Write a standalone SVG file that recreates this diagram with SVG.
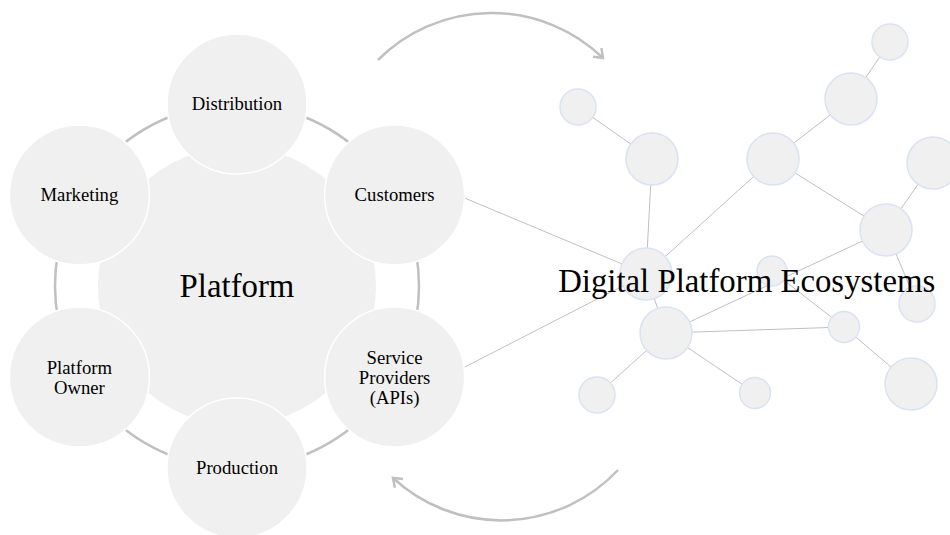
<svg xmlns="http://www.w3.org/2000/svg" width="950" height="535" viewBox="0 0 950 535">
  <style>
    .ring { fill: none; stroke: #c0c0c0; stroke-width: 2.5; }
    .core { fill: #f0f0f0; }
    .sat { fill: #f0f0f0; stroke: #ffffff; stroke-width: 1.5; }
    .dot { fill: #f0f0f0; stroke: #dae3f3; stroke-width: 1.5; }
    .edge { stroke: #c0c0c0; stroke-width: 1; fill: none; }
    .flow { fill: none; stroke: #c0c0c0; stroke-width: 2.5; }
    .lbl { font-family: "Liberation Serif", "Times New Roman", serif; font-size: 18.7px; fill: #000; text-anchor: middle; }
    .big { font-family: "Liberation Serif", "Times New Roman", serif; font-size: 32.8px; fill: #000; text-anchor: middle; }
  </style>
  <defs>
    <marker id="chev" markerUnits="userSpaceOnUse" markerWidth="20" markerHeight="20" refX="0" refY="0" viewBox="-10 -10 20 20" orient="auto" overflow="visible">
      <path d="M-8,-6 L0,0 L-8,6" fill="none" stroke="#c0c0c0" stroke-width="2.5" stroke-linejoin="miter"/>
    </marker>
  </defs>

  <!-- cycle ring behind the platform roles -->
  <circle class="ring" cx="237" cy="286" r="182"/>

  <!-- connectors -->
  <g id="connectors">
    <line class="edge" x1="455" y1="194" x2="646" y2="274"/>
    <line class="edge" x1="455" y1="372" x2="646" y2="274"/>
    <line class="edge" x1="578" y1="107" x2="652" y2="159"/>
    <line class="edge" x1="652" y1="159" x2="646" y2="274"/>
    <line class="edge" x1="773" y1="159" x2="851" y2="99"/>
    <line class="edge" x1="851" y1="99" x2="890" y2="42"/>
    <line class="edge" x1="773" y1="159" x2="646" y2="274"/>
    <line class="edge" x1="773" y1="159" x2="886" y2="230"/>
    <line class="edge" x1="933" y1="163" x2="886" y2="230"/>
    <line class="edge" x1="886" y1="230" x2="917" y2="304"/>
    <line class="edge" x1="886" y1="230" x2="666" y2="333"/>
    <line class="edge" x1="772" y1="271" x2="844" y2="327"/>
    <line class="edge" x1="646" y1="274" x2="666" y2="333"/>
    <line class="edge" x1="666" y1="333" x2="844" y2="327"/>
    <line class="edge" x1="666" y1="333" x2="597" y2="395"/>
    <line class="edge" x1="666" y1="333" x2="755" y2="393"/>
    <line class="edge" x1="844" y1="327" x2="911" y2="384"/>
    <!-- exchange arrows between platform and ecosystem -->
    <path class="flow" d="M378,60 A160.6,160.6 0 0 1 603,58" marker-end="url(#chev)"/>
    <path class="flow" d="M618,470 A160,160 0 0 1 393,478" marker-end="url(#chev)"/>
  </g>

  <!-- platform hub -->
  <g id="platform">
    <circle class="core" cx="237" cy="286" r="139"/>
    <text class="big" x="237" y="297">Platform</text>
  </g>

  <g id="distribution">
    <circle class="sat" cx="237" cy="104" r="70"/>
    <text class="lbl" x="237" y="110">Distribution</text>
  </g>
  <g id="customers">
    <circle class="sat" cx="394.6" cy="195" r="70"/>
    <text class="lbl" x="394.6" y="201">Customers</text>
  </g>
  <g id="service-providers">
    <circle class="sat" cx="394.6" cy="377" r="70"/>
    <text class="lbl" x="394.6" y="364">Service</text>
    <text class="lbl" x="394.6" y="384">Providers</text>
    <text class="lbl" x="394.6" y="404">(APIs)</text>
  </g>
  <g id="production">
    <circle class="sat" cx="237" cy="468" r="70"/>
    <text class="lbl" x="237" y="474">Production</text>
  </g>
  <g id="platform-owner">
    <circle class="sat" cx="79.4" cy="377" r="70"/>
    <text class="lbl" x="79.4" y="374">Platform</text>
    <text class="lbl" x="79.4" y="394">Owner</text>
  </g>
  <g id="marketing">
    <circle class="sat" cx="79.4" cy="195" r="70"/>
    <text class="lbl" x="79.4" y="201">Marketing</text>
  </g>

  <!-- ecosystem network -->
  <g id="eco-n1"><circle class="dot" cx="578" cy="107" r="18"/></g>
  <g id="eco-n2"><circle class="dot" cx="652" cy="159" r="26"/></g>
  <g id="eco-n3"><circle class="dot" cx="773" cy="159" r="26"/></g>
  <g id="eco-n4"><circle class="dot" cx="851" cy="99" r="26"/></g>
  <g id="eco-n5"><circle class="dot" cx="890" cy="42" r="18"/></g>
  <g id="eco-n6"><circle class="dot" cx="933" cy="163" r="26"/></g>
  <g id="eco-n7"><circle class="dot" cx="886" cy="230" r="26"/></g>
  <g id="eco-n8"><circle class="dot" cx="646" cy="274" r="26"/></g>
  <g id="eco-n9"><circle class="dot" cx="772" cy="271" r="15"/></g>
  <g id="eco-n10"><circle class="dot" cx="917" cy="304" r="18"/></g>
  <g id="eco-n11"><circle class="dot" cx="666" cy="333" r="26"/></g>
  <g id="eco-n12"><circle class="dot" cx="844" cy="327" r="15.5"/></g>
  <g id="eco-n13"><circle class="dot" cx="597" cy="395" r="18"/></g>
  <g id="eco-n14"><circle class="dot" cx="755" cy="393" r="15.5"/></g>
  <g id="eco-n15"><circle class="dot" cx="911" cy="384" r="26"/></g>

  <g id="ecosystem-title">
    <text class="big" x="746.7" y="292">Digital Platform Ecosystems</text>
  </g>
</svg>
